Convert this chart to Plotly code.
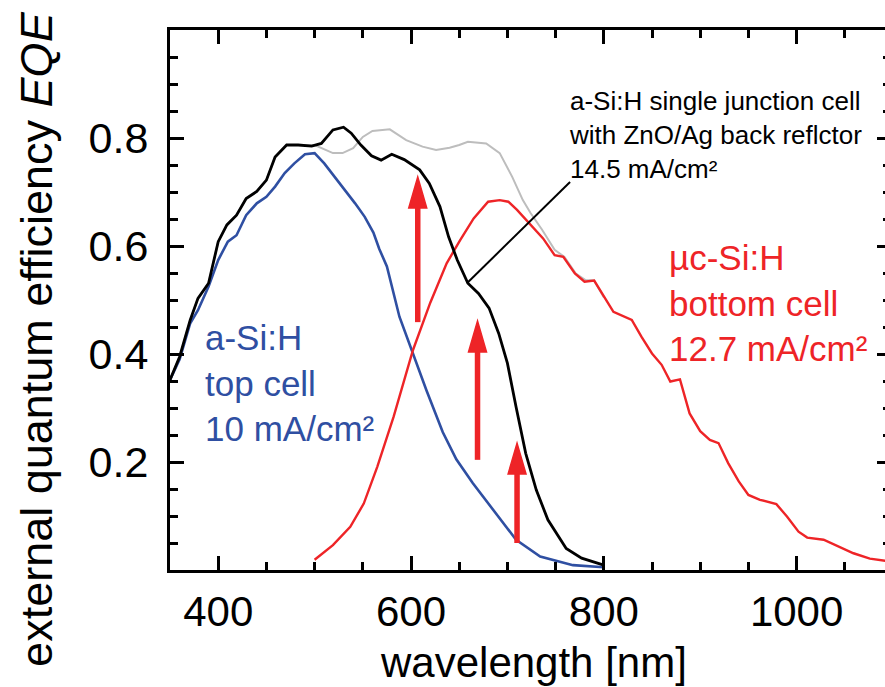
import plotly.graph_objects as go

# ---------------- data ----------------
black_x = [350, 360, 371, 379, 390, 400, 409, 419, 429, 440, 450, 459, 471, 483, 497, 507, 519, 530, 538, 548,
           559, 569, 580, 593, 609, 619, 630, 639, 648, 659, 670, 681, 691, 700, 709, 719, 730, 742, 761, 777, 800]
black_y = [0.352, 0.395, 0.463, 0.503, 0.531, 0.608, 0.639, 0.657, 0.688, 0.701, 0.722, 0.765, 0.787, 0.787, 0.785,
           0.790, 0.815, 0.820, 0.809, 0.787, 0.767, 0.759, 0.770, 0.760, 0.741, 0.716, 0.673, 0.617, 0.574, 0.531,
           0.512, 0.485, 0.438, 0.383, 0.302, 0.216, 0.148, 0.093, 0.040, 0.022, 0.009]

gray_x = [350, 360, 371, 379, 390, 400, 409, 419, 429, 440, 450, 459, 471, 483, 493, 500, 519, 529, 540, 550, 560,
          578, 595, 612, 626, 640, 650, 659, 678, 692, 705, 716, 724, 736, 749, 759, 771, 781, 790, 800]
gray_y = [0.352, 0.395, 0.463, 0.503, 0.531, 0.608, 0.639, 0.657, 0.688, 0.701, 0.722, 0.765, 0.787, 0.787, 0.786,
          0.787, 0.772, 0.772, 0.781, 0.802, 0.813, 0.816, 0.796, 0.784, 0.778, 0.782, 0.787, 0.793, 0.790, 0.772,
          0.728, 0.685, 0.661, 0.630, 0.593, 0.580, 0.549, 0.537, 0.536, 0.505]

blue_x = [350, 360, 371, 379, 390, 400, 410, 419, 429, 440, 450, 459, 469, 479, 490, 500, 510, 521, 531, 542, 552,
          561, 567, 575, 588, 602, 616, 633, 647, 664, 685, 709, 734, 768, 800]
blue_y = [0.352, 0.390, 0.457, 0.481, 0.525, 0.574, 0.608, 0.620, 0.657, 0.679, 0.691, 0.710, 0.735, 0.753, 0.770,
          0.772, 0.753, 0.728, 0.704, 0.679, 0.654, 0.625, 0.595, 0.562, 0.469, 0.401, 0.333, 0.255, 0.205, 0.161,
          0.111, 0.056, 0.025, 0.009, 0.005]

red_x = [500, 519, 537, 551, 565, 582, 602, 620, 637, 651, 665, 680, 692, 701, 710, 720, 728, 737, 749, 758, 770,
         780, 790, 802, 810, 829, 839, 850, 860, 869, 879, 889, 900, 910, 919, 929, 940, 950, 962, 979, 990, 1002,
         1011, 1028, 1045, 1059, 1076, 1092, 1100]
red_y = [0.019, 0.046, 0.080, 0.123, 0.191, 0.284, 0.407, 0.495, 0.568, 0.611, 0.651, 0.682, 0.685, 0.682, 0.667,
         0.648, 0.633, 0.614, 0.583, 0.580, 0.549, 0.534, 0.536, 0.500, 0.478, 0.463, 0.432, 0.401, 0.380, 0.349,
         0.353, 0.290, 0.257, 0.241, 0.235, 0.198, 0.164, 0.139, 0.130, 0.122, 0.099, 0.071, 0.060, 0.056, 0.043,
         0.031, 0.021, 0.017, 0.015]

# red arrows: wavelength, tail EQE, tip EQE
arrow_x = [607, 669, 710]
arrow_tail = [0.459, 0.204, 0.050]
arrow_tip = [0.728, 0.461, 0.235]

# leader line of the black-curve label
leader_x = [658, 765]
leader_y = [0.531, 0.7185]

x_ticks = [400, 600, 800, 1000]
y_ticks = [0.2, 0.4, 0.6, 0.8]
x_range = [350, 1091.7]
y_range = [0, 1.0]

BLACK = "#000000"
GRAY = "#BDBDBD"
BLUE = "#2F4FA2"
RED = "#EE2427"
FONT = "Liberation Sans, Arial, Helvetica, sans-serif"

fig = go.Figure()
fig.add_trace(go.Scatter(x=gray_x, y=gray_y, mode="lines", line=dict(color=GRAY, width=2), hoverinfo="skip"))
fig.add_trace(go.Scatter(x=blue_x, y=blue_y, mode="lines", line=dict(color=BLUE, width=2.6), hoverinfo="skip"))
fig.add_trace(go.Scatter(x=red_x, y=red_y, mode="lines", line=dict(color=RED, width=2.4), hoverinfo="skip"))
fig.add_trace(go.Scatter(x=black_x, y=black_y, mode="lines", line=dict(color=BLACK, width=2.8), hoverinfo="skip"))
fig.add_trace(go.Scatter(x=[None], y=[None], yaxis="y2", showlegend=False, hoverinfo="skip"))

# leader line
fig.add_shape(type="line", x0=leader_x[0], y0=leader_y[0], x1=leader_x[1], y1=leader_y[1],
              line=dict(color=BLACK, width=2))

# red arrows (shaft + elongated head)
plot_w, plot_h = 715, 540
px_per_x = plot_w / (x_range[1] - x_range[0])
px_per_y = plot_h / (y_range[1] - y_range[0])
head_half_w = 9 / px_per_x
head_len = 31 / px_per_y
for ax, y0, y1 in zip(arrow_x, arrow_tail, arrow_tip):
    fig.add_shape(type="line", x0=ax, y0=y0, x1=ax, y1=y1 - head_len * 0.8,
                  line=dict(color=RED, width=5.5))
    yb = y1 - head_len
    fig.add_shape(type="path",
                  path=f"M {ax - head_half_w},{yb} L {ax},{y1} L {ax + head_half_w},{yb} Z",
                  fillcolor=RED, line=dict(color=RED, width=1.5))

# text annotations
fig.add_annotation(x=762, y=0.900, xref="x", yref="y", xanchor="left", yanchor="top", align="left",
                   text="a-Si:H single junction cell<br>with ZnO/Ag back reflctor<br>14.5 mA/cm²",
                   showarrow=False, font=dict(family=FONT, size=26, color=BLACK))
fig.add_annotation(x=384, y=0.470, xref="x", yref="y", xanchor="left", yanchor="top", align="left",
                   text="a-Si:H<br>top cell<br>10 mA/cm²",
                   showarrow=False, font=dict(family=FONT, size=35, color=BLUE))
fig.add_annotation(x=866, y=0.618, xref="x", yref="y", xanchor="left", yanchor="top", align="left",
                   text="µc-Si:H<br>bottom cell<br>12.7 mA/cm²",
                   showarrow=False, font=dict(family=FONT, size=35, color=RED))

# axis titles
fig.add_annotation(x=0.508, y=-0.172, xref="paper", yref="paper", xanchor="center", yanchor="middle",
                   text="wavelength [nm]", showarrow=False, font=dict(family=FONT, size=42, color=BLACK))
fig.add_annotation(x=-0.186, y=0.428, xref="paper", yref="paper", xanchor="center", yanchor="middle",
                   text="external quantum efficiency <i>EQE</i>", textangle=-90, showarrow=False,
                   font=dict(family=FONT, size=45, color=BLACK))

fig.update_layout(
    width=885, height=687, autosize=False,
    margin=dict(l=170, r=0, t=30, b=117),
    paper_bgcolor="white", plot_bgcolor="white",
    showlegend=False,
    font=dict(family=FONT, color=BLACK),
    xaxis=dict(range=x_range, showline=True, linewidth=3, linecolor=BLACK, mirror="ticks",
               ticks="inside", ticklen=14, tickwidth=2.5, tickcolor=BLACK,
               tickmode="array", tickvals=x_ticks, ticktext=[str(v) for v in x_ticks],
               tickfont=dict(family=FONT, size=42, color=BLACK), ticklabelstandoff=3,
               minor=dict(tickmode="linear", tick0=0, dtick=50, ticks="inside", ticklen=8,
                          tickwidth=2.5, tickcolor=BLACK, showgrid=False),
               showgrid=False, zeroline=False),
    yaxis=dict(range=y_range, showline=True, linewidth=3, linecolor=BLACK, mirror=False,
               ticks="inside", ticklen=14, tickwidth=2.5, tickcolor=BLACK,
               tickmode="array", tickvals=y_ticks, ticktext=[f"{v:.1f}" for v in y_ticks],
               tickfont=dict(family=FONT, size=43, color=BLACK), ticklabelstandoff=10,
               minor=dict(tickmode="linear", tick0=0, dtick=0.05, ticks="inside", ticklen=8,
                          tickwidth=2.5, tickcolor=BLACK, showgrid=False),
               showgrid=False, zeroline=False),
    yaxis2=dict(range=y_range, overlaying="y", side="right", anchor="x", showline=False,
                ticks="inside", ticklen=8, tickwidth=2.5, tickcolor=BLACK,
                tickmode="array", tickvals=y_ticks, showticklabels=False,
                minor=dict(tickmode="linear", tick0=0, dtick=0.05, ticks="inside", ticklen=2,
                           tickwidth=2.5, tickcolor=BLACK, showgrid=False),
                showgrid=False, zeroline=False),
)

fig.write_html("out.html")
